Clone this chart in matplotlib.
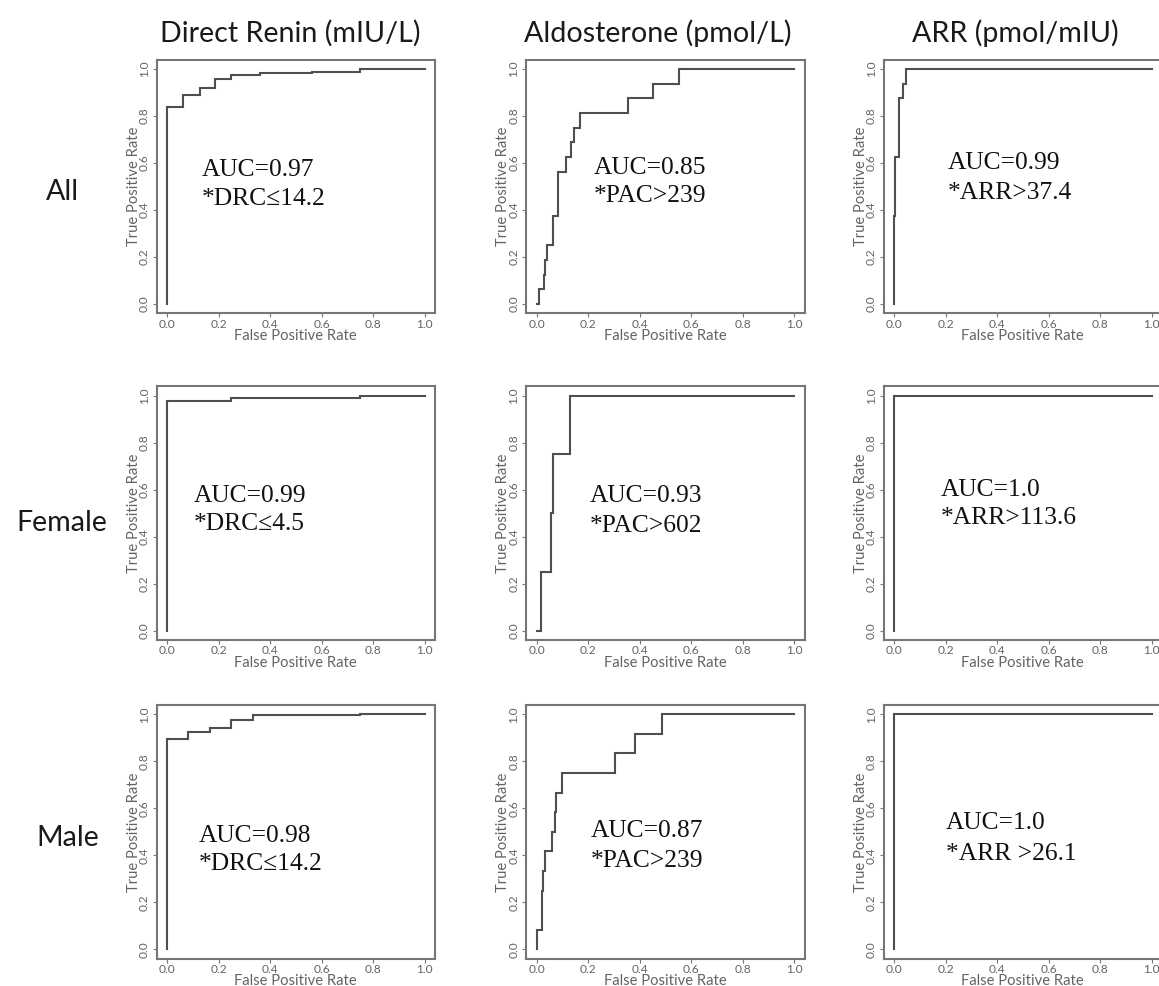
import matplotlib
matplotlib.use("Agg")
import matplotlib.pyplot as plt

# ---------------- data ----------------
col_titles = ["Direct Renin (mIU/L)", "Aldosterone (pmol/L)", "ARR (pmol/mIU)"]
row_titles = ["All", "Female", "Male"]
ticks = [0.0, 0.2, 0.4, 0.6, 0.8, 1.0]
tick_labels = ["0.0", "0.2", "0.4", "0.6", "0.8", "1.0"]
x_label = "False Positive Rate"
y_label = "True Positive Rate"

# ROC step corners (false positive rate, true positive rate)
renin_all_fpr = [0, 0, 0.062, 0.127, 0.188, 0.249, 0.363, 0.563, 0.751, 1.0]
renin_all_tpr = [0, 0.837, 0.889, 0.918, 0.956, 0.974, 0.982, 0.989, 1.0, 1.0]
aldo_all_fpr = [0, 0.010, 0.028, 0.032, 0.041, 0.065, 0.082, 0.114, 0.132, 0.145,
                0.168, 0.356, 0.453, 0.554, 1.0]
aldo_all_tpr = [0, 0.0625, 0.125, 0.1875, 0.25, 0.375, 0.5625, 0.625, 0.6875, 0.75,
                0.8125, 0.875, 0.9375, 1.0, 1.0]
arr_all_fpr = [0, 0, 0.003, 0.018, 0.021, 0.036, 0.047, 1.0]
arr_all_tpr = [0, 0.375, 0.625, 0.8125, 0.875, 0.9375, 1.0, 1.0]

renin_f_fpr = [0, 0, 0.25, 0.75, 1.0]
renin_f_tpr = [0, 0.977, 0.989, 1.0, 1.0]
aldo_f_fpr = [0, 0.016, 0.056, 0.065, 0.129, 1.0]
aldo_f_tpr = [0, 0.25, 0.5, 0.75, 1.0, 1.0]
arr_f_fpr = [0, 0, 1.0]
arr_f_tpr = [0, 1.0, 1.0]

renin_m_fpr = [0, 0, 0.083, 0.167, 0.25, 0.333, 0.75, 1.0]
renin_m_tpr = [0, 0.893, 0.926, 0.940, 0.976, 0.996, 1.0, 1.0]
aldo_m_fpr = [0, 0, 0.022, 0.026, 0.032, 0.058, 0.071, 0.075, 0.097, 0.304, 0.382, 0.485, 1.0]
aldo_m_tpr = [0, 0.0833, 0.25, 0.3333, 0.4167, 0.5, 0.5833, 0.6667, 0.75, 0.8333, 0.9167, 1.0, 1.0]
arr_m_fpr = [0, 0, 1.0]
arr_m_tpr = [0, 1.0, 1.0]

auc_text = [["AUC=0.97", "AUC=0.85", "AUC=0.99"],
            ["AUC=0.99", "AUC=0.93", "AUC=1.0"],
            ["AUC=0.98", "AUC=0.87", "AUC=1.0"]]
cut_text = [["*DRC\u226414.2", "*PAC>239", "*ARR>37.4"],
            ["*DRC\u22644.5", "*PAC>602", "*ARR>113.6"],
            ["*DRC\u226414.2", "*PAC>239", "*ARR >26.1"]]

fpr = [[renin_all_fpr, aldo_all_fpr, arr_all_fpr],
       [renin_f_fpr, aldo_f_fpr, arr_f_fpr],
       [renin_m_fpr, aldo_m_fpr, arr_m_fpr]]
tpr = [[renin_all_tpr, aldo_all_tpr, arr_all_tpr],
       [renin_f_tpr, aldo_f_tpr, arr_f_tpr],
       [renin_m_tpr, aldo_m_tpr, arr_m_tpr]]

# ---------------- layout (pixels) ----------------
W, H = 1159, 986
fig = plt.figure(figsize=(W / 100, H / 100), dpi=100)
fig.patch.set_facecolor("white")

col_left = [156.7, 526.4, 883.7]
row_top = [59.6, 386.3, 704.9]
BW, BH = 278.1, 253.8

# annotation positions: (left x, baseline line1, baseline line2)
text_pos = [[(201.7, 176.0, 205.0), (594.0, 173.8, 202.1), (947.5, 168.8, 198.8)],
            [(194.0, 502.1, 530.5), (590.0, 502.1, 532.1), (941.2, 495.5, 523.8)],
            [(199.0, 842.1, 870.5), (590.7, 837.1, 867.1), (946.0, 828.8, 860.5)]]
title_pos = [(290, 42), (658, 42), (1015, 42)]
row_pos = [(62, 192), (62, 523), (68, 838)]

SANS = ["Lato", "DejaVu Sans"]
SERIF = ["Liberation Serif", "DejaVu Serif"]
BOX_C = "#767676"
LINE_C = "#4f4f4f"
LAB_C = "#636363"


def fx(px):
    return px / W


def fy(py):
    return 1 - py / H


axes_list = []
xlabels, ylabels = [], []
for r in range(3):
    for c in range(3):
        ax = fig.add_axes([fx(col_left[c]), fy(row_top[r] + BH), BW / W, BH / H])
        ax.plot(fpr[r][c], tpr[r][c], drawstyle="steps-post", color=LINE_C, lw=1.5,
                solid_joinstyle="miter", clip_on=False)
        ax.set_xlim(-0.04, 1.04)
        ax.set_ylim(-0.04, 1.04)
        ax.set_xticks(ticks)
        ax.set_yticks(ticks)
        ax.set_xticklabels(tick_labels, family=SANS)
        ax.set_yticklabels(tick_labels, family=SANS)
        ax.tick_params(length=3, width=0.8, color=BOX_C, labelsize=8.6,
                       labelcolor=LAB_C, direction="out")
        ax.tick_params(axis="x", pad=7.3)
        ax.tick_params(axis="y", pad=3.5)
        for s in ax.spines.values():
            s.set_color(BOX_C)
            s.set_linewidth(1.5)
        axes_list.append(ax)
        cx = col_left[c] + BW / 2
        cy_mid = row_top[r] + BH / 2
        xl = fig.text(fx(cx), fy(row_top[r] + BH + 26.6), x_label, family=SANS,
                      fontsize=10, color=LAB_C, ha="center", va="baseline")
        yl = fig.text(fx(col_left[c] - 19), fy(cy_mid), y_label, family=SANS,
                      fontsize=10, color=LAB_C, ha="center", va="baseline",
                      rotation=90, rotation_mode="anchor")
        xlabels.append(xl)
        ylabels.append(yl)
        x0, b1, b2 = text_pos[r][c]
        fig.text(fx(x0), fy(b1), auc_text[r][c], family=SERIF, fontsize=18.4,
                 color="#111111", ha="left", va="baseline")
        fig.text(fx(x0), fy(b2), cut_text[r][c], family=SERIF, fontsize=18.4,
                 color="#111111", ha="left", va="baseline")

titles = []
for c in range(3):
    t = fig.text(fx(title_pos[c][0]), fy(title_pos[c][1]), col_titles[c], family=SANS,
                 fontsize=20, color="#1a1a1a", ha="center", va="baseline")
    titles.append(t)
rows = []
for r in range(3):
    t = fig.text(fx(row_pos[r][0]), fy(row_pos[r][1]), row_titles[r], family=SANS,
                 fontsize=20, color="#1a1a1a", ha="center", va="center")
    rows.append(t)

# fit font sizes to measured widths
fig.canvas.draw()
rend = fig.canvas.get_renderer()


def fit(t, target):
    w = t.get_window_extent(rend).width
    return t.get_fontsize() * target / w


ts = fit(titles[0], 261)
for t in titles + rows:
    t.set_fontsize(ts)
ls = fit(xlabels[0], 122)
for t in xlabels + ylabels:
    t.set_fontsize(ls)

for ax in axes_list:
    plt.setp(ax.get_xticklabels(), va="baseline")
    plt.setp(ax.get_yticklabels(), rotation=90, rotation_mode="anchor",
             ha="center", va="baseline")

fig.savefig("out.png", dpi=100, facecolor="white")
